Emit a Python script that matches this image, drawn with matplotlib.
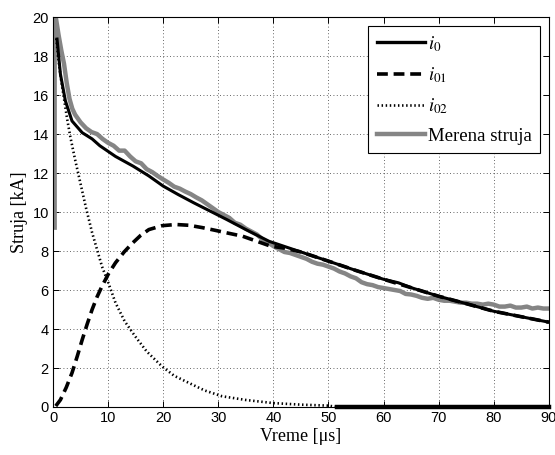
import matplotlib
matplotlib.use("Agg")
import matplotlib.pyplot as plt

# --- data ---
t_i0 = [0.73, 1.35, 2.25, 3.45, 5.3, 7.1, 8.5, 11.35, 14.5, 17.4, 20, 22.7, 25.5, 28.5,
        31.5, 35, 39.2, 45, 50, 55, 60, 62.7, 65, 70, 75, 80, 85, 90]
i0 = [18.87, 17.07, 15.7, 14.67, 14.07, 13.75, 13.4, 12.85, 12.36, 11.85, 11.33, 10.9,
      10.48, 10.05, 9.62, 9.1, 8.5, 7.95, 7.48, 7.0, 6.55, 6.37, 6.12, 5.68, 5.3, 4.91,
      4.63, 4.35]

t_i01 = [0.5, 1.35, 2.4, 3.45, 4.4, 5.3, 6.2, 7.1, 8.0, 8.9, 10.1, 11.35, 12.9, 14.4, 15.9,
         17.4, 19.8, 22.3, 24.7, 27.1, 29.3, 31.4, 34.4, 37, 39.5, 42, 45, 50, 55, 60, 65,
         70, 75, 80, 85, 90]
i01 = [0.05, 0.37, 1.0, 1.75, 2.6, 3.45, 4.25, 5.0, 5.65, 6.2, 6.85, 7.4, 7.95, 8.4, 8.8,
       9.1, 9.3, 9.36, 9.32, 9.2, 9.07, 8.94, 8.76, 8.5, 8.25, 8.15, 7.95, 7.48, 7.0, 6.55,
       6.12, 5.68, 5.3, 4.91, 4.63, 4.35]

t_i02 = [0.6, 1.0, 1.35, 1.95, 2.55, 3.15, 4.0, 5.0, 6.0, 7.1, 8.9, 10.0, 11.35, 13.0,
         14.9, 17.0, 19.8, 22.0, 24.7, 27.5, 30.7, 35, 40, 45, 50, 51.5]
i02 = [18.9, 17.8, 17.0, 15.9, 14.8, 13.85, 12.7, 11.45, 10.2, 8.94, 7.2, 6.4, 5.34, 4.4,
       3.63, 2.85, 2.08, 1.6, 1.23, 0.85, 0.55, 0.36, 0.2, 0.12, 0.07, 0.0]
t_i02_tail = [51.5, 90]
i02_tail = [0.0, 0.0]

t_meas = [0.3, 0.3, 0.5, 1.0, 1.5, 2.0, 2.5, 3, 3.5, 4, 5, 6, 7, 8, 9, 10, 11, 12, 13, 14,
          15, 16, 17, 18, 19, 20, 21, 22, 23, 24, 25, 26, 27, 28, 29, 30, 31, 32, 33, 34, 35,
          36, 37, 38, 39, 40, 41, 42, 43, 44, 45, 46, 47, 48, 49, 50, 51, 52, 53, 54, 55, 56,
          57, 58, 59, 60, 61, 62, 63, 64, 65, 66, 67, 68, 69, 70, 71, 72, 73, 74, 75, 76, 77,
          78, 79, 80, 81, 82, 83, 84, 85, 86, 87, 88, 89, 90]
meas = [9.2, 20.0, 20.0, 19.1, 18.3, 17.6, 16.6, 15.8, 15.3, 15.0, 14.6, 14.3, 14.1, 14.0,
        13.75, 13.55, 13.4, 13.15, 13.15, 12.85, 12.6, 12.5, 12.2, 12.05, 11.85, 11.67,
        11.5, 11.3, 11.2, 11.05, 10.92, 10.75, 10.6, 10.4, 10.2, 10.0, 9.85, 9.7, 9.45,
        9.35, 9.15, 9.0, 8.85, 8.6, 8.45, 8.25, 8.1, 7.95, 7.9, 7.8, 7.7, 7.6, 7.45, 7.35,
        7.3, 7.2, 7.1, 6.95, 6.85, 6.7, 6.6, 6.4, 6.3, 6.25, 6.15, 6.1, 6.05, 6.0, 5.95,
        5.8, 5.77, 5.7, 5.6, 5.55, 5.6, 5.5, 5.45, 5.45, 5.4, 5.35, 5.35, 5.3, 5.3, 5.25,
        5.3, 5.25, 5.15, 5.15, 5.2, 5.1, 5.1, 5.15, 5.05, 5.1, 5.05, 5.05]

labels = [r'$i_0$', r'$i_{01}$', r'$i_{02}$', 'Merena struja']
xticks = list(range(0, 91, 10))
yticks = list(range(0, 21, 2))

plt.rcParams['mathtext.fontset'] = 'stix'

fig = plt.figure(figsize=(5.55, 4.55), dpi=100)
ax = fig.add_axes([0.0955, 0.1055, 0.8935, 0.857])

GRAY = '#858585'
DOT = (0, (0.55, 1.0))
ax.plot(t_meas, meas, color=GRAY, lw=3.2, zorder=2)
ax.plot(t_i0, i0, color='black', lw=2.2, zorder=3)
ax.plot(t_i01, i01, color='black', lw=2.6, ls=(0, (3, 1.6)), zorder=3)
ax.plot(t_i02, i02, color='black', lw=1.9, ls=DOT, zorder=3)
ax.plot(t_i02_tail, i02_tail, color='black', lw=3.2, zorder=4, clip_on=False)

h0, = ax.plot([], [], color='black', lw=2.4)
h1, = ax.plot([], [], color='black', lw=2.6, ls=(0, (3, 1.6)))
h2, = ax.plot([], [], color='black', lw=1.9, ls=DOT)
h3, = ax.plot([], [], color=GRAY, lw=3.2)

leg = ax.legend([h0, h1, h2, h3], labels, loc='upper right', fancybox=False,
                framealpha=1, edgecolor='black', handlelength=2.6, handletextpad=0.15,
                labelspacing=0.62, borderaxespad=0.45, borderpad=0.45,
                prop={'family': 'Liberation Serif', 'size': 13.5})
leg.get_frame().set_linewidth(0.8)

ax.set_xlim(0, 90)
ax.set_ylim(0, 20)
ax.set_xticks(xticks)
ax.set_yticks(yticks)
ax.tick_params(direction='in', top=True, right=True, length=4, width=0.7,
               labelsize=10.5, pad=3)
for lab in ax.get_xticklabels() + ax.get_yticklabels():
    lab.set_family('Liberation Sans')
ax.grid(True, ls=(0, (1, 3)), color='black', lw=0.6, alpha=0.8)
for s in ax.spines.values():
    s.set_linewidth(0.8)

ax.set_xlabel('Vreme [μs]', family='Liberation Serif', fontsize=13, labelpad=2)
ax.set_ylabel('Struja [kA]', family='Liberation Serif', fontsize=13, labelpad=3)

fig.savefig('out.png', dpi=100)
